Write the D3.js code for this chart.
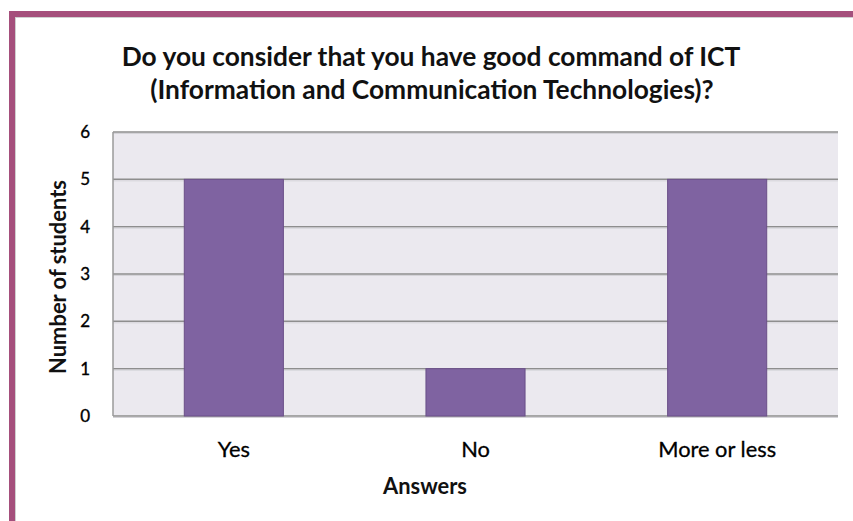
<!DOCTYPE html>
<html>
<head>
<meta charset="utf-8">
<script src="https://cdn.jsdelivr.net/npm/d3@7"></script>
<style>
  html, body { margin: 0; padding: 0; background: #fff; }
  svg { display: block; }
  text { font-family: Lato, "Open Sans", sans-serif; }
</style>
</head>
<body>
<script>
const categories = ["Yes", "No", "More or less"];
const values = [5, 1, 5];
const yTicks = [0, 1, 2, 3, 4, 5, 6];
const titleLines = ["Do you consider that you have good command of ICT", "(Information and Communication Technologies)?"];
const xTitle = "Answers";
const yTitle = "Number of students";

const W = 853, H = 521;
const plot = { left: 113, top: 132, right: 838, bottom: 416 };

const svg = d3.select("body").append("svg").attr("width", W).attr("height", H);

// outer frame
svg.append("rect").attr("x", 0).attr("y", 0).attr("width", W).attr("height", H).attr("fill", "#fff");
svg.append("line").attr("x1", 12).attr("x2", W).attr("y1", 17.5).attr("y2", 17.5).attr("stroke", "#d0d0d0").attr("stroke-width", 1);
svg.append("line").attr("x1", 15.5).attr("x2", 15.5).attr("y1", 17).attr("y2", H).attr("stroke", "#d0d0d0").attr("stroke-width", 1);
svg.append("path")
  .attr("d", `M12,${H} L12,14 L${W},14`)
  .attr("fill", "none").attr("stroke", "#A54F7C").attr("stroke-width", 6);

const x = d3.scaleBand().domain(categories).range([plot.left, plot.right]).paddingInner(0.59).paddingOuter(0.295);
const y = d3.scaleLinear().domain([0, 6]).range([plot.bottom, plot.top]);

// plot background
svg.append("rect").attr("x", plot.left).attr("y", plot.top)
  .attr("width", plot.right - plot.left).attr("height", plot.bottom - plot.top)
  .attr("fill", "#EBE9EF");

// gridlines
svg.append("g").selectAll("line").data(yTicks).join("line")
  .attr("x1", plot.left).attr("x2", plot.right)
  .attr("y1", d => y(d)).attr("y2", d => y(d))
  .attr("stroke", "#8E8E8E").attr("stroke-width", 1.5);
svg.append("g").selectAll("line").data(yTicks).join("line")
  .attr("x1", plot.left).attr("x2", plot.right)
  .attr("y1", d => y(d) + 1.5).attr("y2", d => y(d) + 1.5)
  .attr("stroke", "#d4d3d8").attr("stroke-width", 1);

// left border
svg.append("line").attr("x1", plot.left).attr("x2", plot.left).attr("y1", plot.top).attr("y2", plot.bottom)
  .attr("stroke", "#9a9a9a").attr("stroke-width", 1.5);

// bars
svg.append("g").selectAll("rect").data(categories).join("rect")
  .attr("x", d => x(d)).attr("width", x.bandwidth())
  .attr("y", (d, i) => y(values[i])).attr("height", (d, i) => y(0) - y(values[i]))
  .attr("fill", "#7F63A1").attr("stroke", "#6A4F88").attr("stroke-width", 1);

// fit text helper
function fit(sel, target) {
  const w = sel.node().getComputedTextLength();
  const fs = parseFloat(sel.attr("font-size"));
  sel.attr("font-size", fs * target / w);
}

// y axis labels (drawn from the scale)
svg.append("g").attr("class", "ylabels").selectAll("text").data(yTicks).join("text")
  .attr("x", plot.left - 23)
  .attr("y", d => y(d))
  .attr("dy", "0.36em")
  .attr("text-anchor", "end")
  .attr("font-family", "'Open Sans', sans-serif")
  .attr("font-size", 17)
  .attr("fill", "#000")
  .attr("stroke", "#000").attr("stroke-width", 0.35)
  .text(d3.format("d"));

// x axis labels
const xAxis = d3.axisBottom(x).tickSize(0).tickPadding(25);
const gx = svg.append("g").attr("transform", `translate(0,${plot.bottom})`).call(xAxis);
gx.select(".domain").remove();
gx.selectAll("text").style("font-size", "16px").style("font-family", "Lato, sans-serif")
  .attr("fill", "#000").attr("stroke", "#000").attr("stroke-width", 0.3);
{
  const ref = gx.selectAll("text").filter(d => d === "More or less");
  const w = ref.node().getComputedTextLength();
  const fs = 16 * 118 / w;
  gx.selectAll("text").style("font-size", fs + "px");
}

// title
const t1 = svg.append("text").attr("x", 431).attr("y", 66).attr("text-anchor", "middle")
  .attr("font-size", 20).attr("font-weight", "bold").attr("fill", "#111").text(titleLines[0]);
fit(t1, 619);
const t2 = svg.append("text").attr("x", 432).attr("y", 99).attr("text-anchor", "middle")
  .attr("font-size", t1.attr("font-size")).attr("font-weight", "bold").attr("fill", "#111").text(titleLines[1]);

// x title
const xt = svg.append("text").attr("x", 425).attr("y", 494).attr("text-anchor", "middle")
  .attr("font-size", 16).attr("font-weight", "bold").attr("fill", "#111").text(xTitle);
fit(xt, 84);

// y title
const yt = svg.append("text").attr("transform", "translate(66,277) rotate(-90)").attr("text-anchor", "middle")
  .attr("font-size", 16).attr("font-weight", "bold").attr("fill", "#111").text(yTitle);
fit(yt, 194);
</script>
</body>
</html>
